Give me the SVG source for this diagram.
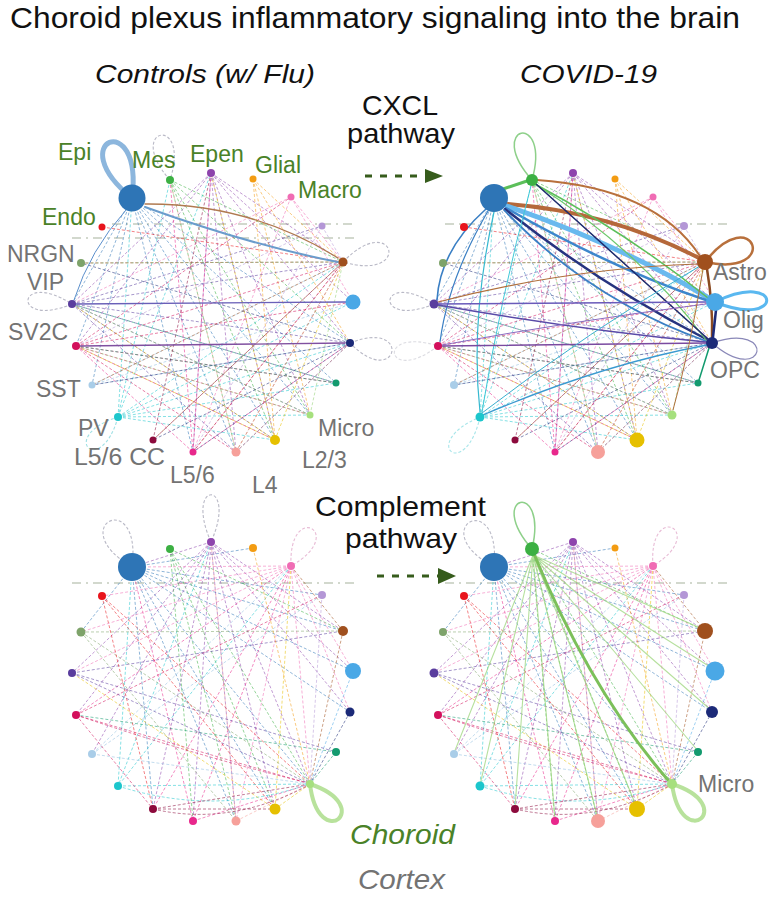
<svg xmlns="http://www.w3.org/2000/svg" width="777" height="900" viewBox="0 0 777 900">
<style>
.t{font-family:"Liberation Sans",Arial,Helvetica,sans-serif}
.it{font-style:italic}
.g{fill:#4a8228}
.gr{fill:#737373}
.k{fill:#111}
.w{fill:none;stroke-width:.9;stroke-dasharray:3 2;opacity:.6}
.s{fill:none;stroke-linecap:round}
.lp{fill:none;stroke:#b9b9c6;stroke-width:1.1;stroke-dasharray:3 2}
.hz{fill:none;stroke:#c3ccbd;stroke-width:1.6;stroke-dasharray:9 5 2 5}
.b{stroke:#2e75b6}.gn{stroke:#3cb043}.pu{stroke:#8e44ad}.or{stroke:#f39c12}.pk{stroke:#f06cb4}.lv{stroke:#b497d6}
.br{stroke:#a0501e}.lb{stroke:#4aa8e6}.nv{stroke:#1c2a78}.te{stroke:#139a6e}.mi{stroke:#8fd070}.ye{stroke:#e6c000}
.sa{stroke:#f6a09a}.mg{stroke:#e8288c}.dr{stroke:#8c0a3c}.cy{stroke:#1cc6cc}.sk{stroke:#8fbde0}.cr{stroke:#d3105c}
.in{stroke:#5a3d9e}.ol{stroke:#7ea36a}.rd{stroke:#e8141c}
</style>
<defs>
<g id="webTop">
<path class="w b" d="M132 198L350 343M132 198L310 415M132 198L275 440M132 198L236 452M132 198L92 385M132 198L76 346M132 198L72 304M132 198L193 452M132 198L336 383"/>
<path class="w gn" d="M170 180L343 262M170 180L350 343M170 180L275 440M170 180L310 415M170 180L236 452"/>
<path class="w cy" d="M170 180L118 417M118 417L343 262M118 417L353 302M118 417L350 343M118 417L310 415M118 417L275 440M118 417L211 173M118 417L132 198M118 417L336 383"/>
<path class="w pu" d="M211 173L343 262M211 173L350 343M211 173L310 415M211 173L275 440M211 173L236 452M211 173L193 452M211 173L76 346M211 173L72 304M211 173L353 302"/>
<path class="w or" d="M253 179L343 262M253 179L275 440M253 179L310 415M253 179L350 343"/>
<path class="w pk" d="M291 197L343 262M291 197L353 302M291 197L72 304M291 197L193 452"/>
<path class="w lv" d="M322 226L343 262M322 226L193 452M322 226L76 346"/>
<path class="w in" d="M72 304L343 262M72 304L350 343M72 304L310 415M72 304L275 440M72 304L236 452M72 304L336 383M72 304L322 226"/>
<path class="w cr" d="M76 346L343 262M76 346L353 302M76 346L310 415M76 346L275 440M76 346L236 452M76 346L336 383M76 346L291 197"/>
<path class="w sk" d="M92 385L343 262M92 385L350 343M92 385L353 302"/>
<path class="w br" d="M343 262L193 452M343 262L153 440M343 262L236 452M343 262L92 385M343 262L81 263"/>
<path class="w nv" d="M350 343L193 452M350 343L153 440M350 343L236 452M350 343L92 385M350 343L81 263"/>
<path class="w ye" d="M275 440L72 304M275 440L343 262M275 440L211 173M275 440L76 346"/>
<path class="w sa" d="M236 452L343 262M236 452L350 343M236 452L170 180"/>
<path class="w mg" d="M193 452L343 262M193 452L350 343M193 452L211 173M193 452L76 346M193 452L170 180"/>
<path class="w te" d="M336 383L72 304M336 383L76 346"/>
<path class="w mi" d="M310 415L343 262M310 415L72 304M310 415L76 346"/>
<path class="w dr" d="M153 440L343 262M153 440L211 173"/>
<path class="w ol" d="M81 263L343 262"/>
<path class="w rd" d="M102 227L343 262"/>
</g>
<g id="webBot">
<path class="w b" d="M132 198L310 415M132 198L236 452M132 198L275 440M132 198L153 440M132 198L350 343M132 198L343 262M132 198L353 302M132 198L81 263M132 198L322 226M132 198L253 179"/>
<path class="w gn" d="M170 180L310 415M170 180L193 452M170 180L236 452M170 180L343 262M170 180L275 440"/>
<path class="w pu" d="M211 173L310 415M211 173L193 452M211 173L153 440M211 173L236 452M211 173L275 440M211 173L76 346M211 173L350 343M211 173L343 262M211 173L132 198M211 173L72 304M211 173L353 302M211 173L92 385"/>
<path class="w pk" d="M291 197L310 415M291 197L132 198M291 197L72 304M291 197L81 263M291 197L102 227M291 197L236 452M291 197L353 302M291 197L350 343"/>
<path class="w mg" d="M193 452L310 415M291 197L76 346M291 197L153 440M291 197L193 452M132 198L193 452"/>
<path class="w cy" d="M118 417L310 415M291 197L118 417M211 173L118 417M132 198L118 417M118 417Q215 448 309 415"/>
<path class="w br" d="M343 262L310 415M291 197L343 262"/>
<path class="w lb" d="M353 302L310 415"/>
<path class="w nv" d="M350 343L310 415"/>
<path class="w te" d="M336 383L310 415M336 383L76 346"/>
<path class="w ye" d="M275 440L310 415M291 197L275 440M275 440L72 304"/>
<path class="w sa" d="M236 452L310 415M236 452L211 173"/>
<path class="w dr" d="M153 440L310 415M153 440Q230 458 309 416M153 440L275 440"/>
<path class="w sk" d="M92 385L310 415M291 197L92 385M92 385L322 226"/>
<path class="w cr" d="M76 346L310 415M76 346L153 440M76 346L322 226M76 346Q200 388 309 414"/>
<path class="w in" d="M72 304L310 415M72 304L336 383M72 304L343 262"/>
<path class="w ol" d="M81 263L310 415M81 263L343 262M81 263L236 452"/>
<path class="w rd" d="M102 227L310 415M102 227L275 440M102 227L153 440"/>
<path class="w or" d="M253 179L310 415"/>
<path class="w lv" d="M322 226L310 415"/>
</g>
</defs>
<rect width="777" height="900" fill="#fff"/>

<g id="titles" class="t">
<text x="10" y="28" font-size="30" class="k" textLength="730" lengthAdjust="spacingAndGlyphs">Choroid plexus inflammatory signaling into the brain</text>
<text x="95" y="83" font-size="25" class="k it" textLength="220" lengthAdjust="spacingAndGlyphs">Controls (w/ Flu)</text>
<text x="520" y="83" font-size="25" class="k it" textLength="137" lengthAdjust="spacingAndGlyphs">COVID-19</text>
</g>

<g id="separators">
<path class="hz" d="M112 224H355M72 238H355M445 224H728M72 583H355M445 583H728"/>
</g>

<g id="connectors">
<use href="#webTop"/>
<use href="#webTop" transform="translate(362,0)"/>
<use href="#webBot" transform="translate(0,369)"/>
<use href="#webBot" transform="translate(362,369)"/>
<g id="p1-edges" class="s">
<path d="M145 204Q250 203 338 258" stroke="#b07a50" stroke-width="1.3"/>
<path d="M145 207Q250 245 338 262" stroke="#6a9ccc" stroke-width="2"/>
<path d="M76 304L346 302" stroke="#6a60b8" stroke-width="1.3"/>
<path d="M80 346L345 343" stroke="#8050a0" stroke-width="1.3"/>
<path d="M126 210Q90 250 74 300" stroke="#5b8fcc" stroke-width="1"/>
</g>
<g id="p2-edges" class="s">
<path d="M500 190L527 181" stroke="#5cbf5a" stroke-width="3"/>
<path d="M537 180Q655 188 700 256" stroke="#b8703c" stroke-width="2"/>
<path d="M508 204Q610 212 699 258" stroke="#b5683a" stroke-width="4"/>
<path d="M507 206Q620 245 707 297" stroke="#69b9ee" stroke-width="5"/>
<path d="M506 208Q615 270 706 300" stroke="#3d86cc" stroke-width="2.5"/>
<path d="M505 209Q600 285 706 339" stroke="#26337f" stroke-width="2.5"/>
<path d="M504 210Q590 300 706 341" stroke="#3a7fc4" stroke-width="1.8"/>
<path d="M535 184Q630 235 708 298" stroke="#5cbf5a" stroke-width="1.5"/>
<path d="M535 184Q640 250 706 340" stroke="#6cc86a" stroke-width="1.2"/>
<path d="M536 184Q620 260 708 339" stroke="#1e2a6e" stroke-width="1.5"/>
<path d="M486 209Q440 250 437 300" stroke="#3a7fc4" stroke-width="1.6"/>
<path d="M488 211Q448 280 440 342" stroke="#3a7fc4" stroke-width="1.2"/>
<path d="M494 212Q470 320 480 412" stroke="#36b9d0" stroke-width="1.2"/>
<path d="M531 186Q500 300 482 412" stroke="#40c8d8" stroke-width="1"/>
<path d="M438 304L706 302" stroke="#6a5aba" stroke-width="1.5"/>
<path d="M438 305Q580 330 706 342" stroke="#5a4aa8" stroke-width="1.5"/>
<path d="M438 302Q570 268 698 264" stroke="#b0703c" stroke-width="1.2"/>
<path d="M442 346L706 343" stroke="#7a4aa0" stroke-width="1.3"/>
<path d="M442 345Q580 320 706 304" stroke="#8a6ac0" stroke-width="1"/>
<path d="M483 415Q600 365 707 345" stroke="#3a9ad0" stroke-width="1.3"/>
<path d="M482 413Q590 330 700 266" stroke="#3ab0d0" stroke-width="1"/>
<path d="M707 269Q713 305 712 337" stroke="#8a4a22" stroke-width="2.5"/>
<path d="M716 310L713 337" stroke="#1c2a78" stroke-width="2.5"/>
<path d="M709 348L699 380" stroke="#139a6e" stroke-width="1.5"/>
<path d="M703 269Q690 350 673 410" stroke="#b0703c" stroke-width="1"/>
</g>
<g id="p4-edges" class="s">
<path d="M533 555L637 808M533 555L598 820M533 555L555 819M533 555L712 711M533 555L715 670M533 555L698 751M533 555L480 785M533 555L454 753M533 555L515 808M533 555L705 630" stroke="#9ed67e" stroke-width="1.1" opacity=".75"/>
<path d="M534 554Q590 690 668 780" stroke="#7cc05a" stroke-width="3"/>
</g>
</g>

<g id="loops">
<path d="M0 0C-45 -80 45 -80 0 0" transform="translate(132,198) rotate(-22)" fill="none" stroke="#8cb6dd" stroke-width="5"/>
<path class="lp" d="M0 0C-35 -61 35 -61 0 0" transform="translate(170,180) rotate(-12)"/>
<path class="lp" d="M0 0C-38 -63 38 -63 0 0" transform="translate(343,262) rotate(75)"/>
<path class="lp" d="M0 0C-38 -57 38 -57 0 0" transform="translate(350,343) rotate(102)"/>
<path class="lp" d="M0 0C-31 -59 31 -59 0 0" transform="translate(72,304) rotate(-85)"/>
<path class="lp" d="M0 0C-31 -57 31 -57 0 0" transform="translate(118,417) rotate(-136)" style="stroke:#9fe0e4"/>

<path d="M0 0C-35 -64 35 -64 0 0" transform="translate(532,180) rotate(-13)" fill="none" stroke="#8ed08a" stroke-width="1.5"/>
<path d="M0 0C-42 -67 42 -67 0 0" transform="translate(705,262) rotate(70)" fill="none" stroke="#b8703c" stroke-width="2.5"/>
<path d="M0 0C-31 -69 31 -69 0 0" transform="translate(715,302) rotate(88)" fill="none" stroke="#5ab8f0" stroke-width="3"/>
<path d="M0 0C-35 -61 35 -61 0 0" transform="translate(712,343) rotate(101)" fill="none" stroke="#8a88b8" stroke-width="1.2"/>
<path class="lp" d="M0 0C-31 -59 31 -59 0 0" transform="translate(434,304) rotate(-85)"/>
<path class="lp" d="M0 0C-31 -59 31 -59 0 0" transform="translate(438,346) rotate(-100)" style="opacity:.5"/>
<path class="lp" d="M0 0C-31 -60 31 -60 0 0" transform="translate(480,417) rotate(-140)" style="stroke:#a8e6ea"/>

<path class="lp" d="M0 0C-45 -68 45 -68 0 0" transform="translate(132,567) rotate(-26)"/>
<path class="lp" d="M0 0C-28 -63 28 -63 0 0" transform="translate(211,542) rotate(0)"/>
<path class="lp" d="M0 0C-35 -57 35 -57 0 0" transform="translate(291,566) rotate(29)" style="stroke:#e8bcd6"/>
<path d="M0 0C-38 -60 38 -60 0 0" transform="translate(310,784) rotate(141)" fill="none" stroke="#b8e29c" stroke-width="4"/>

<path class="lp" d="M0 0C-45 -68 45 -68 0 0" transform="translate(494,567) rotate(-28)"/>
<path d="M0 0C-33 -64 33 -64 0 0" transform="translate(532,549) rotate(-14)" fill="none" stroke="#8ed08a" stroke-width="1.5"/>
<path class="lp" d="M0 0C-35 -57 35 -57 0 0" transform="translate(653,566) rotate(27)" style="stroke:#e8bcd6"/>
<path d="M0 0C-38 -60 38 -60 0 0" transform="translate(672,784) rotate(140)" fill="none" stroke="#b8e29c" stroke-width="4"/>
</g>

<g id="nodes-controls-cxcl">
<g id="n1-epi"><circle cx="132" cy="198" r="13.5" fill="#2e75b6"/></g>
<g id="n1-mes"><circle cx="170" cy="180" r="4" fill="#3cb043"/></g>
<g id="n1-epen"><circle cx="211" cy="173" r="4" fill="#8e44ad"/></g>
<g id="n1-glial"><circle cx="253" cy="179" r="3.5" fill="#f39c12"/></g>
<g id="n1-macro"><circle cx="291" cy="197" r="3.5" fill="#f06cb4"/></g>
<g id="n1-lpurp"><circle cx="322" cy="226" r="3.5" fill="#b497d6"/></g>
<g id="n1-astro"><circle cx="343" cy="262" r="4.5" fill="#a0501e"/></g>
<g id="n1-olig"><circle cx="353" cy="302" r="7.5" fill="#4aa8e6"/></g>
<g id="n1-opc"><circle cx="350" cy="343" r="4" fill="#1c2a78"/></g>
<g id="n1-teal"><circle cx="336" cy="383" r="3.5" fill="#139a6e"/></g>
<g id="n1-micro"><circle cx="310" cy="415" r="3.5" fill="#a6e07e"/></g>
<g id="n1-l23"><circle cx="275" cy="440" r="5" fill="#e6c000"/></g>
<g id="n1-l4"><circle cx="236" cy="452" r="4.5" fill="#f6a09a"/></g>
<g id="n1-l56"><circle cx="193" cy="452" r="3.5" fill="#e8288c"/></g>
<g id="n1-l56cc"><circle cx="153" cy="440" r="3.5" fill="#8c0a3c"/></g>
<g id="n1-pv"><circle cx="118" cy="417" r="4" fill="#1cc6cc"/></g>
<g id="n1-sst"><circle cx="92" cy="385" r="3.5" fill="#a9cde8"/></g>
<g id="n1-sv2c"><circle cx="76" cy="346" r="4" fill="#d3105c"/></g>
<g id="n1-vip"><circle cx="72" cy="304" r="4" fill="#5a3d9e"/></g>
<g id="n1-nrgn"><circle cx="81" cy="263" r="4" fill="#7ea36a"/></g>
<g id="n1-endo"><circle cx="102" cy="227" r="3.5" fill="#e8141c"/></g>
</g>

<g id="nodes-covid-cxcl">
<g id="n2-epi"><circle cx="494" cy="198" r="14" fill="#2e75b6"/></g>
<g id="n2-mes"><circle cx="532" cy="180" r="6" fill="#3cb043"/></g>
<g id="n2-epen"><circle cx="573" cy="173" r="4" fill="#8e44ad"/></g>
<g id="n2-glial"><circle cx="615" cy="179" r="3.5" fill="#f39c12"/></g>
<g id="n2-macro"><circle cx="653" cy="197" r="3.5" fill="#f06cb4"/></g>
<g id="n2-lpurp"><circle cx="684" cy="226" r="4" fill="#b497d6"/></g>
<g id="n2-astro"><circle cx="705" cy="262" r="8" fill="#a0501e"/></g>
<g id="n2-olig"><circle cx="715" cy="302" r="9" fill="#4aa8e6"/></g>
<g id="n2-opc"><circle cx="712" cy="343" r="6" fill="#1c2a78"/></g>
<g id="n2-teal"><circle cx="698" cy="383" r="3.5" fill="#139a6e"/></g>
<g id="n2-micro"><circle cx="672" cy="415" r="4.5" fill="#a6e07e"/></g>
<g id="n2-l23"><circle cx="637" cy="440" r="7.5" fill="#e6c000"/></g>
<g id="n2-l4"><circle cx="598" cy="452" r="7" fill="#f6a09a"/></g>
<g id="n2-l56"><circle cx="555" cy="452" r="3.5" fill="#e8288c"/></g>
<g id="n2-l56cc"><circle cx="515" cy="440" r="3.5" fill="#8c0a3c"/></g>
<g id="n2-pv"><circle cx="480" cy="417" r="4.5" fill="#1cc6cc"/></g>
<g id="n2-sst"><circle cx="454" cy="385" r="4" fill="#a9cde8"/></g>
<g id="n2-sv2c"><circle cx="438" cy="346" r="4" fill="#d3105c"/></g>
<g id="n2-vip"><circle cx="434" cy="304" r="4.5" fill="#5a3d9e"/></g>
<g id="n2-nrgn"><circle cx="443" cy="263" r="4" fill="#7ea36a"/></g>
<g id="n2-endo"><circle cx="464" cy="227" r="4" fill="#e8141c"/></g>
</g>

<g id="nodes-controls-complement">
<g id="n3-epi"><circle cx="132" cy="567" r="14" fill="#2e75b6"/></g>
<g id="n3-mes"><circle cx="170" cy="549" r="4" fill="#3cb043"/></g>
<g id="n3-epen"><circle cx="211" cy="542" r="4" fill="#8e44ad"/></g>
<g id="n3-glial"><circle cx="253" cy="548" r="4" fill="#f39c12"/></g>
<g id="n3-macro"><circle cx="291" cy="566" r="4" fill="#f06cb4"/></g>
<g id="n3-lpurp"><circle cx="322" cy="595" r="4" fill="#b497d6"/></g>
<g id="n3-astro"><circle cx="343" cy="631" r="5" fill="#a0501e"/></g>
<g id="n3-olig"><circle cx="353" cy="671" r="8" fill="#4aa8e6"/></g>
<g id="n3-opc"><circle cx="350" cy="712" r="4.5" fill="#1c2a78"/></g>
<g id="n3-teal"><circle cx="336" cy="752" r="4" fill="#139a6e"/></g>
<g id="n3-micro"><circle cx="310" cy="784" r="4" fill="#a6e07e"/></g>
<g id="n3-l23"><circle cx="275" cy="809" r="5.5" fill="#e6c000"/></g>
<g id="n3-l4"><circle cx="236" cy="821" r="4.5" fill="#f6a09a"/></g>
<g id="n3-l56"><circle cx="193" cy="821" r="4" fill="#e8288c"/></g>
<g id="n3-l56cc"><circle cx="153" cy="809" r="4" fill="#8c0a3c"/></g>
<g id="n3-pv"><circle cx="118" cy="786" r="4" fill="#1cc6cc"/></g>
<g id="n3-sst"><circle cx="92" cy="754" r="4" fill="#a9cde8"/></g>
<g id="n3-sv2c"><circle cx="76" cy="715" r="4" fill="#d3105c"/></g>
<g id="n3-vip"><circle cx="72" cy="673" r="4" fill="#5a3d9e"/></g>
<g id="n3-nrgn"><circle cx="81" cy="632" r="4.5" fill="#7ea36a"/></g>
<g id="n3-endo"><circle cx="102" cy="596" r="4" fill="#e8141c"/></g>
</g>

<g id="nodes-covid-complement">
<g id="n4-epi"><circle cx="494" cy="567" r="14" fill="#2e75b6"/></g>
<g id="n4-mes"><circle cx="532" cy="549" r="7" fill="#3cb043"/></g>
<g id="n4-epen"><circle cx="573" cy="542" r="4" fill="#8e44ad"/></g>
<g id="n4-glial"><circle cx="615" cy="548" r="3.5" fill="#f39c12"/></g>
<g id="n4-macro"><circle cx="653" cy="566" r="4" fill="#f06cb4"/></g>
<g id="n4-lpurp"><circle cx="684" cy="595" r="4" fill="#b497d6"/></g>
<g id="n4-astro"><circle cx="705" cy="631" r="8" fill="#a0501e"/></g>
<g id="n4-olig"><circle cx="715" cy="671" r="9.5" fill="#4aa8e6"/></g>
<g id="n4-opc"><circle cx="712" cy="712" r="6" fill="#1c2a78"/></g>
<g id="n4-teal"><circle cx="698" cy="752" r="4" fill="#139a6e"/></g>
<g id="n4-micro"><circle cx="672" cy="784" r="5" fill="#a6e07e"/></g>
<g id="n4-l23"><circle cx="637" cy="809" r="8" fill="#e6c000"/></g>
<g id="n4-l4"><circle cx="598" cy="821" r="7" fill="#f6a09a"/></g>
<g id="n4-l56"><circle cx="555" cy="821" r="4" fill="#e8288c"/></g>
<g id="n4-l56cc"><circle cx="515" cy="809" r="4" fill="#8c0a3c"/></g>
<g id="n4-pv"><circle cx="480" cy="786" r="4.5" fill="#1cc6cc"/></g>
<g id="n4-sst"><circle cx="454" cy="754" r="4" fill="#a9cde8"/></g>
<g id="n4-sv2c"><circle cx="438" cy="715" r="4" fill="#d3105c"/></g>
<g id="n4-vip"><circle cx="434" cy="673" r="4.5" fill="#5a3d9e"/></g>
<g id="n4-nrgn"><circle cx="443" cy="632" r="4" fill="#7ea36a"/></g>
<g id="n4-endo"><circle cx="464" cy="596" r="4" fill="#e8141c"/></g>
</g>

<g id="labels" class="t" font-size="23">
<text x="58" y="160" class="g">Epi</text>
<text x="132" y="168" class="g">Mes</text>
<text x="190" y="162" class="g">Epen</text>
<text x="255" y="173" class="g">Glial</text>
<text x="298" y="198" class="g">Macro</text>
<text x="42" y="225" class="g">Endo</text>
<text x="7" y="262" class="gr">NRGN</text>
<text x="27" y="290" class="gr">VIP</text>
<text x="8" y="340" class="gr">SV2C</text>
<text x="36" y="397" class="gr">SST</text>
<text x="78" y="436" class="gr">PV</text>
<text x="74" y="465" class="gr" textLength="91" lengthAdjust="spacingAndGlyphs">L5/6 CC</text>
<text x="170" y="483" class="gr">L5/6</text>
<text x="252" y="493" class="gr">L4</text>
<text x="318" y="436" class="gr">Micro</text>
<text x="302" y="468" class="gr">L2/3</text>
<text x="713" y="280" class="gr">Astro</text>
<text x="723" y="328" class="gr">Olig</text>
<text x="710" y="378" class="gr">OPC</text>
<text x="698" y="792" class="gr">Micro</text>
</g>

<g id="pathway-cxcl" class="t">
<text x="362" y="115" font-size="28" class="k" textLength="76" lengthAdjust="spacingAndGlyphs">CXCL</text>
<text x="347" y="143" font-size="28" class="k" textLength="108" lengthAdjust="spacingAndGlyphs">pathway</text>
<path d="M365 176H426" stroke="#365c1c" stroke-width="3" stroke-dasharray="7 8"/>
<polygon points="425,169 443,176 425,183" fill="#365c1c"/>
</g>

<g id="pathway-complement" class="t">
<text x="315" y="516" font-size="28" class="k" textLength="171" lengthAdjust="spacingAndGlyphs">Complement</text>
<text x="345" y="548" font-size="28" class="k" textLength="112" lengthAdjust="spacingAndGlyphs">pathway</text>
<path d="M377 576H439" stroke="#365c1c" stroke-width="3" stroke-dasharray="7 8"/>
<polygon points="438,568 456,576 438,584" fill="#365c1c"/>
</g>

<g id="legend" class="t it">
<text x="350" y="844" font-size="28" class="g" textLength="105" lengthAdjust="spacingAndGlyphs">Choroid</text>
<text x="358" y="889" font-size="28" class="gr" textLength="87" lengthAdjust="spacingAndGlyphs">Cortex</text>
</g>
</svg>
